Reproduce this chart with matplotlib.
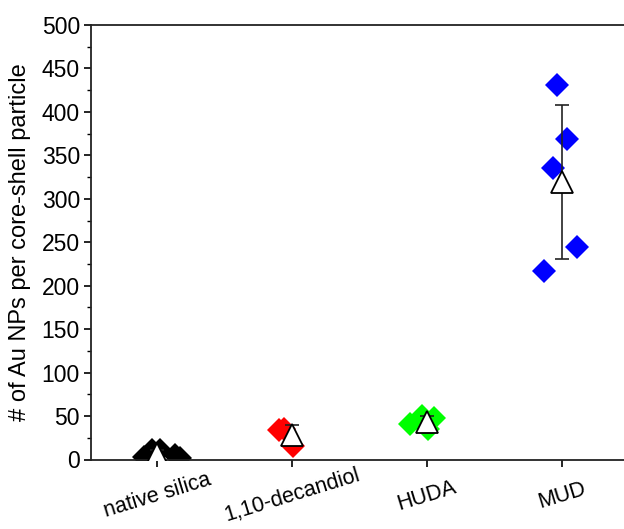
import numpy as np
import matplotlib
matplotlib.use("Agg")
import matplotlib.pyplot as plt
from matplotlib.ticker import MultipleLocator

plt.rcParams['font.family'] = ['Liberation Sans', 'DejaVu Sans']

categories = ["native silica", "1,10-decandiol", "HUDA", "MUD"]
colors = ["#000000", "#FF0000", "#00FF00", "#0000FF"]

# individual measurements (value) and horizontal jitter (category units)
native_vals = [3, 11, 11, 5, 2]
native_jit = [-0.10, -0.04, 0.02, 0.13, 0.17]
decandiol_vals = [34, 35, 15]
decandiol_jit = [-0.10, -0.06, 0.01]
huda_vals = [41, 50, 48, 35]
huda_jit = [-0.13, -0.04, 0.05, 0.01]
mud_vals = [431, 369, 335, 245, 217]
mud_jit = [-0.04, 0.04, -0.07, 0.11, -0.13]

all_vals = [native_vals, decandiol_vals, huda_vals, mud_vals]
all_jit = [native_jit, decandiol_jit, huda_jit, mud_jit]

W, H = 624, 529
fig = plt.figure(figsize=(W / 100, H / 100), dpi=100)
left_px, right_px = 91, 643
top_px, bot_px = 25, 459.5
ax = fig.add_axes([left_px / W, 1 - bot_px / H, (right_px - left_px) / W, (bot_px - top_px) / H])

for i, (vals, jit, c) in enumerate(zip(all_vals, all_jit, colors)):
    x = i + 1
    ax.plot(np.array(jit) + x, vals, linestyle='none', marker='D', ms=12.5,
            color=c, mec=c, mew=0, zorder=2)

for i, vals in enumerate(all_vals):
    x = i + 1
    m = np.mean(vals)
    s = np.std(vals, ddof=1)
    ax.errorbar([x], [m], yerr=[s], fmt='none', ecolor='#222222', elinewidth=1.2,
                capsize=5, capthick=1.2, zorder=3)
    ax.plot([x], [m], marker='^', ms=15.5, mfc='white', mec='black', mew=1.3,
            linestyle='none', zorder=4)

ax.set_xlim(0.51, 4.6)
ax.set_ylim(0, 500)
ax.yaxis.set_major_locator(MultipleLocator(50))
ax.yaxis.set_minor_locator(MultipleLocator(25))
ax.set_xticks(range(1, 5))
ax.set_xticklabels(categories, rotation=17, ha='center', va='center',
                   rotation_mode='anchor', fontsize=15.5)
ax.tick_params(axis='x', direction='out', length=5, width=1.2, pad=21)
ax.tick_params(axis='y', which='major', direction='out', length=5, width=1.2,
               labelsize=16.5, pad=3)
ax.tick_params(axis='y', which='minor', direction='out', length=3, width=1.0)
for sp in ax.spines.values():
    sp.set_linewidth(1.3)
    sp.set_color('#222222')
ax.set_ylabel("# of Au NPs per core-shell particle", fontsize=17, labelpad=8)

fig.savefig("out.png", dpi=100)
